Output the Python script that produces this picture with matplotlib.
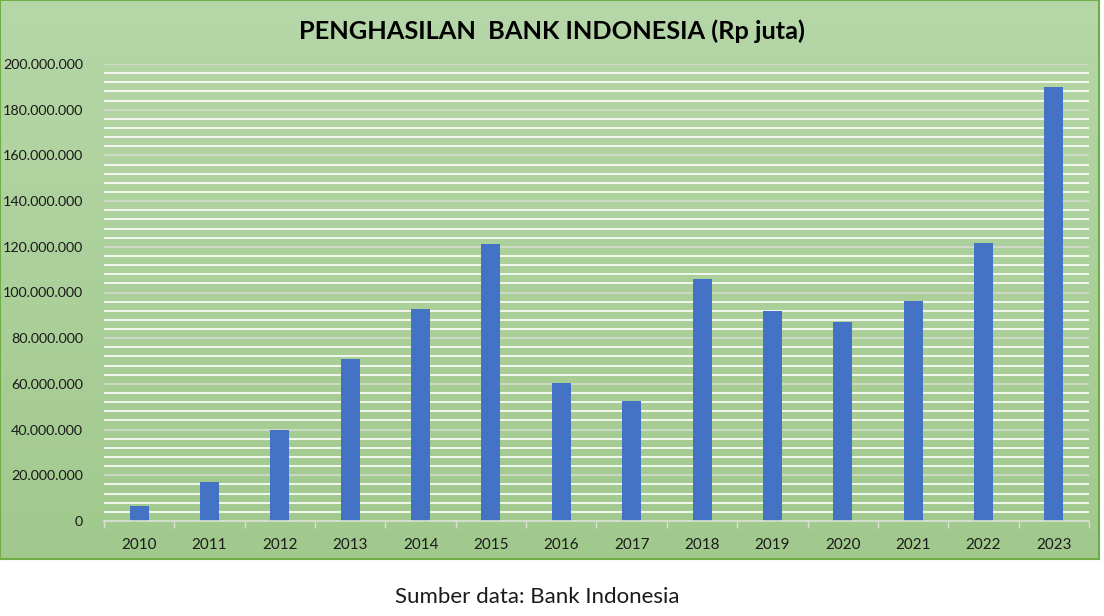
import numpy as np
import matplotlib
matplotlib.use("Agg")
import matplotlib.pyplot as plt
from matplotlib.colors import LinearSegmentedColormap
from matplotlib.ticker import FuncFormatter, MultipleLocator

plt.rcParams['font.family'] = ['Lato', 'DejaVu Sans']

years = ['2010', '2011', '2012', '2013', '2014', '2015', '2016',
         '2017', '2018', '2019', '2020', '2021', '2022', '2023']
penghasilan = [6.6e6, 17.1e6, 39.8e6, 70.9e6, 92.8e6, 121.2e6, 60.4e6,
               52.5e6, 105.9e6, 91.9e6, 87.1e6, 96.3e6, 121.7e6, 189.9e6]

W, H = 1104, 616
fig = plt.figure(figsize=(W / 100, H / 100), dpi=100)
fig.patch.set_facecolor('white')

# green gradient chart area
bg = fig.add_axes([0, 1 - 559 / H, 1099 / W, 559 / H])
cmap = LinearSegmentedColormap.from_list('g', ['#a1c98d', '#b6d7a8'])
bg.imshow(np.linspace(0, 1, 256).reshape(-1, 1), aspect='auto', cmap=cmap,
          origin='lower', extent=[0, 1, 0, 1])
bg.set_xticks([])
bg.set_yticks([])
for s in bg.spines.values():
    s.set_color('#70ad47')
    s.set_linewidth(1.5)

ax = fig.add_axes([104 / W, 1 - 521 / H, (1089 - 104) / W, (521 - 64) / H])
ax.set_facecolor('none')
x = np.arange(len(years))
ax.bar(x, penghasilan, width=0.27, color='#4472c4', zorder=3)

ax.set_xlim(-0.5, len(years) - 0.5)
ax.set_ylim(0, 200e6)
ax.yaxis.set_major_locator(MultipleLocator(20e6))
ax.yaxis.set_minor_locator(MultipleLocator(4e6))
ax.yaxis.set_major_formatter(FuncFormatter(
    lambda v, p: '0' if v == 0 else f'{int(v):,}'.replace(',', '.')))
ax.grid(axis='y', which='minor', color='white', linewidth=1.2, zorder=1)
ax.grid(axis='y', which='major', color='#d4dccf', linewidth=1.2, zorder=1)
ax.tick_params(axis='y', which='both', length=0, labelsize=10.3, pad=15,
               labelcolor='#1a1a1a')

ax.set_xticks(x)
ax.set_xticklabels(years)
ax.set_xticks(np.arange(-0.5, len(years)), minor=True)
ax.tick_params(axis='x', which='major', length=0, labelsize=11, pad=12,
               labelcolor='#1a1a1a')
ax.tick_params(axis='x', which='minor', length=5, color='#d9e2d3', width=1)

for k in ['top', 'right', 'left']:
    ax.spines[k].set_visible(False)
ax.spines['bottom'].set_color('#d9e2d3')
ax.spines['bottom'].set_linewidth(1.2)
ax.spines['bottom'].set_zorder(4)

fig.text(552 / W, 1 - 31 / H, 'PENGHASILAN  BANK INDONESIA (Rp juta)',
         ha='center', va='center', fontsize=18.3, fontweight='bold', color='black')
fig.text(537 / W, 1 - 597 / H, 'Sumber data: Bank Indonesia',
         ha='center', va='center', fontsize=16, color='#1a1a1a')

fig.savefig('out.png', dpi=100)
